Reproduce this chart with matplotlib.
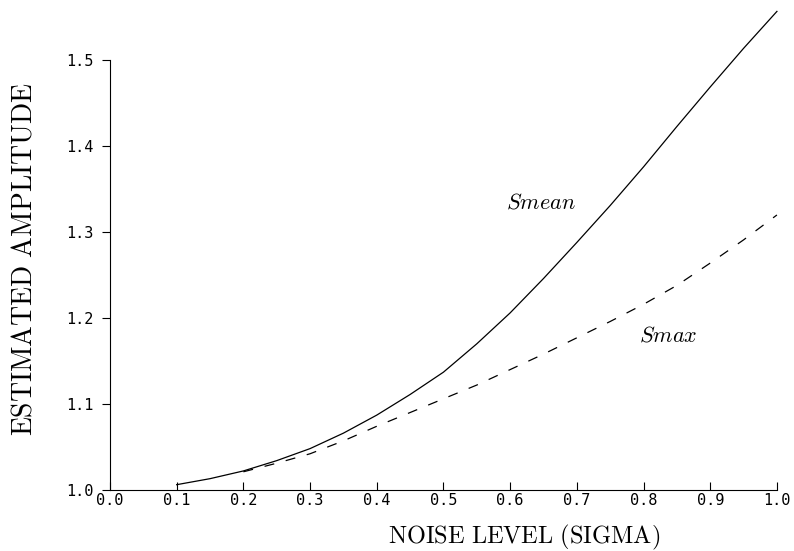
import matplotlib
matplotlib.use('Agg')
import matplotlib.pyplot as plt

plt.rcParams['mathtext.fontset'] = 'cm'

# noise level (sigma) and estimated amplitude
sigma_mean = [0.10, 0.15, 0.20, 0.25, 0.30, 0.35, 0.40, 0.45, 0.50, 0.55,
              0.60, 0.65, 0.70, 0.75, 0.80, 0.85, 0.90, 0.95, 1.00]
s_mean = [1.006, 1.013, 1.022, 1.034, 1.048, 1.066, 1.087, 1.111, 1.137, 1.170,
          1.206, 1.246, 1.288, 1.331, 1.376, 1.423, 1.469, 1.514, 1.557]

sigma_max = [0.20, 0.25, 0.30, 0.35, 0.40, 0.45, 0.50, 0.55, 0.60,
             0.65, 0.70, 0.75, 0.80, 0.85, 0.90, 0.95, 1.00]
s_max = [1.021, 1.031, 1.042, 1.057, 1.074, 1.090, 1.106, 1.122, 1.140,
         1.158, 1.177, 1.196, 1.216, 1.238, 1.264, 1.291, 1.320]

xticks = [0.0, 0.1, 0.2, 0.3, 0.4, 0.5, 0.6, 0.7, 0.8, 0.9, 1.0]
yticks = [1.0, 1.1, 1.2, 1.3, 1.4, 1.5]

fig = plt.figure(figsize=(7.94, 5.51), dpi=100)
ax = fig.add_axes([0.1385, 0.111, 0.84, 0.873])

ax.plot(sigma_mean, s_mean, color='black', lw=0.9, clip_on=False)
ax.plot(sigma_max, s_max, color='black', lw=0.9, linestyle=(0, (8, 9.5)), clip_on=False)

ax.text(0.646, 1.335, r'$Smean$', fontsize=16, ha='center', va='center')
ax.text(0.837, 1.180, r'$Smax$', fontsize=16, ha='center', va='center')

ax.set_xlim(0.0, 1.0)
ax.set_ylim(1.0, 1.56)
ax.spines['top'].set_visible(False)
ax.spines['right'].set_visible(False)
ax.spines['left'].set_bounds(1.0, 1.5)
ax.spines['left'].set_linewidth(0.8)
ax.spines['bottom'].set_linewidth(0.8)

ax.set_xticks(xticks)
ax.set_xticklabels(['%.1f' % t for t in xticks], family='DejaVu Sans Mono', fontsize=11)
ax.set_yticks(yticks)
ax.set_yticklabels(['%.1f' % t for t in yticks], family='DejaVu Sans Mono', fontsize=11)
ax.tick_params(axis='x', direction='in', length=6, width=0.8, pad=2)
ax.tick_params(axis='y', direction='out', length=6, width=0.8, pad=6)

fig.text(524 / 794, 1 - 543 / 551, r'$\mathrm{NOISE\ LEVEL\ (SIGMA)}$',
         fontsize=17.5, ha='center', va='baseline')
fig.text(24 / 794, 1 - 259 / 551, r'$\mathrm{ESTIMATED\ AMPLITUDE}$',
         fontsize=20, ha='center', va='center', rotation=90)

fig.savefig('out.png', dpi=100)
